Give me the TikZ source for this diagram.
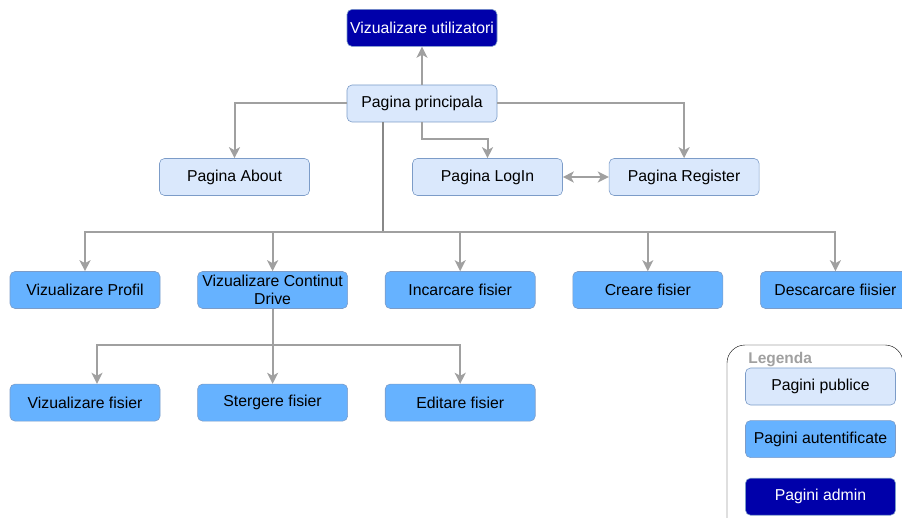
\documentclass[tikz,border=0pt]{standalone}
\usepackage{fontspec}
\setmainfont{Liberation Sans}
\usetikzlibrary{positioning, arrows, arrows.meta}

\definecolor{pubfill}{HTML}{DAE8FC}
\definecolor{authfill}{HTML}{66B2FF}
\definecolor{admfill}{HTML}{0000AA}
\definecolor{boxline}{HTML}{7C9CC8}
\definecolor{conn}{HTML}{A0A0A0}

\begin{document}
\begin{tikzpicture}[
	x=1pt, y=-1pt,
	node distance = 37pt and 37pt,
	semithick,
	font=\fontsize{15.8}{18}\selectfont,
	box/.style = {rectangle, rounded corners=5pt, draw=boxline, fill=#1,
		minimum width=150pt, minimum height=37pt, inner sep=1pt, align=center},
	admbox/.style = {box=admfill, text=white},
	link/.style = {draw=conn, line width=2pt},
	tip/.tip = {Stealth[length=11pt, width=11pt, inset=3pt]},
	]
	\useasboundingbox (0,0) rectangle (902,518);
	
	\node (main) [box=pubfill] at (422,103.5) {Pagina principala};
	\node (admin) [admbox, above=38pt of main] {Vizualizare utilizatori};
	\node (about) [box=pubfill] at (234.5,177) {Pagina About};
	\node (login) [box=pubfill] at (487.5,177) {Pagina LogIn};
	\node (register) [box=pubfill, right=46pt of login] {Pagina Register};
	%
	\node (profil) [box=authfill] at (85,290) {Vizualizare Profil};
	\node (drive) [box=authfill, right=of profil] {Vizualizare Continut\\Drive};
	\node (upload) [box=authfill, right=of drive] {Incarcare fisier};
	\node (create) [box=authfill, right=of upload] {Creare fisier};
	\node (download) [box=authfill, right=of create] {Descarcare fiisier};
	%
	\node (viewfile) [box=authfill, below=75pt of profil] {Vizualizare fisier};
	\node (delfile) [box=authfill, below=75pt of drive] {Stergere fisier};
	\node (editfile) [box=authfill, below=75pt of upload] {Editare fisier};
	
	% legend
	\draw[black, thin, rounded corners=18pt] (727,345) rectangle (903,540);
	\node (legtitle) [anchor=west, text=conn, font=\fontsize{15.5}{18}\selectfont\bfseries, inner sep=0pt] at (748,360) {Legenda};
	\node (legpub) [box=pubfill] at (820.5,386.5) {Pagini publice};
	\node (legauth) [box=authfill, below=15pt of legpub] {Pagini autentificate};
	\node (legadm) [admbox, below=20pt of legauth] {Pagini admin};
	
	% connectors
	\draw[link, -tip] (main) -- (admin);
	\draw[link, -tip] (main.west) -| (about.north);
	\draw[link, -tip] (main.east) -| (register.north);
	\draw[link, -tip] (main.south) -- ++(0,17) -| (login.north);
	\draw[link, tip-tip] (login) -- (register);
	
	\coordinate (trunk) at (383,232);
	\draw[link, draw=conn!85!black] (trunk |- main.south) -- (trunk);
	\foreach \n in {profil, drive, upload, create, download}
		\draw[link, -tip] (trunk) -| (\n.north);
	
	\coordinate (split) at (drive.south |- 0,345);
	\draw[link] (drive.south) -- (split);
	\draw[link, -tip] (split) -| ([xshift=12pt]viewfile.north);
	\draw[link, -tip] (split) -- (delfile.north);
	\draw[link, -tip] (split) -| (editfile.north);
\end{tikzpicture}
\end{document}
